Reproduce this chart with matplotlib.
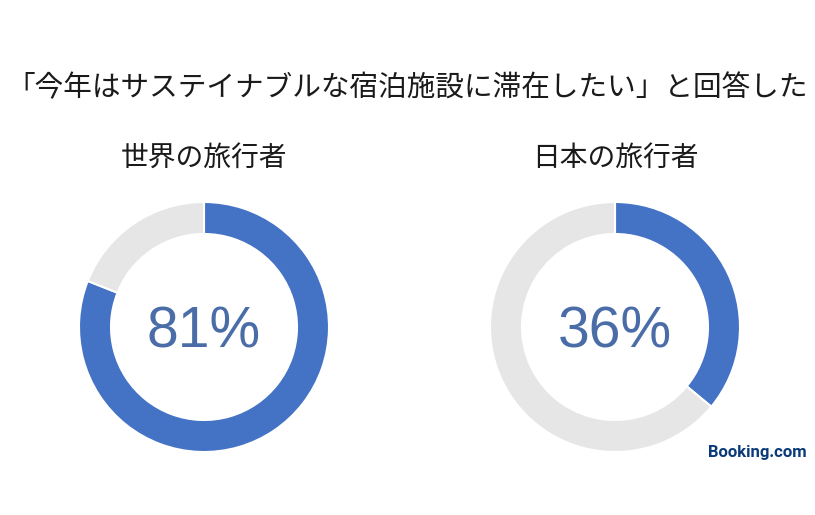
import matplotlib
matplotlib.use("Agg")
import matplotlib.pyplot as plt

title = "「今年はサステイナブルな宿泊施設に滞在したい」と回答した"
groups = ["世界の旅行者", "日本の旅行者"]
values = [81, 36]
source = "Booking.com"

W, H = 815, 515
fig = plt.figure(figsize=(W / 100, H / 100), dpi=100)
ax = fig.add_axes([0, 0, 1, 1])
ax.set_xlim(0, W)
ax.set_ylim(0, H)
ax.set_aspect("equal")
ax.axis("off")

jp = ["Noto Sans CJK JP", "DejaVu Sans"]
blue = "#4472C4"
grey = "#E6E6E6"
txt_blue = "#4A6DA8"

ax.text(W / 2, H - 88, title, ha="center", va="center", fontsize=20.6,
        family=jp, color="#1a1a1a")

centers_x = [204, 615]
cy = H - 327
for cx, g, v in zip(centers_x, groups, values):
    ax.pie([v, 100 - v], colors=[blue, grey], startangle=90, counterclock=False,
           center=(cx, cy), radius=125,
           wedgeprops=dict(width=32, edgecolor="white", linewidth=1.5))
    ax.text(cx, H - 158, g, ha="center", va="center", fontsize=20, family=jp,
            color="#1a1a1a")
    ax.text(cx, cy - 5, f"{v}%", ha="center", va="center", fontsize=41,
            family=["Liberation Sans", "DejaVu Sans"], color=txt_blue)

ax.set_xlim(0, W)
ax.set_ylim(0, H)

ax.text(757, H - 452, source, ha="center", va="center", fontsize=12,
        fontweight="bold", family=["Roboto", "DejaVu Sans"], color="#0B3A7A")

fig.savefig("out.png", dpi=100, facecolor="white")
